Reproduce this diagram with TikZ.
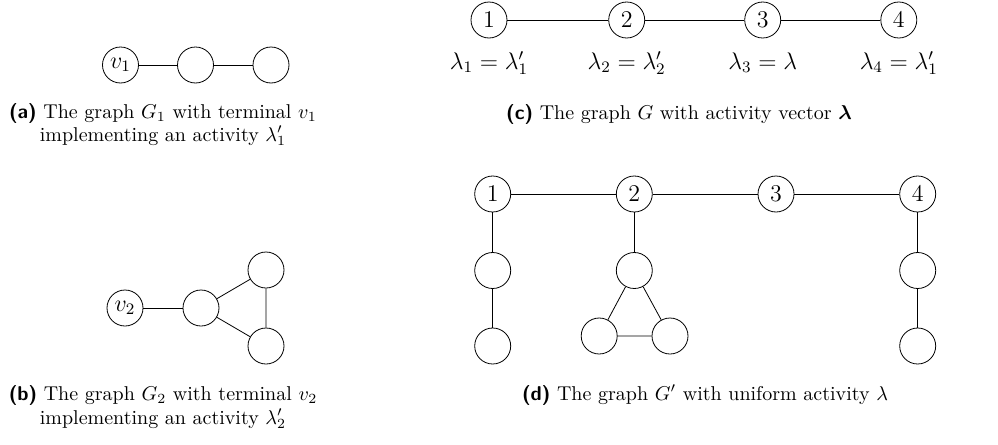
\documentclass[tikz,border=0pt]{standalone}
\usepackage{amsmath,amssymb}
\begin{document}
\begin{tikzpicture}[x=0.5pt,y=-0.5pt,
  vtx/.style={circle,draw,line width=0.4pt,minimum size=18pt,inner sep=0.5pt,font=\large},
  txt/.style={anchor=base,inner sep=0pt,font=\normalsize},
  lab/.style={anchor=base,inner sep=0pt,font=\large},
  edge/.style={line width=0.4pt}]
\useasboundingbox (0,0) rectangle (998,445);
% (a)
\node[vtx] (av1) at (120.5,65) {$v_1$};
\node[vtx] (a2) at (195.5,65) {};
\node[vtx] (a3) at (271,65) {};
\draw[edge] (av1) -- (a2) -- (a3);
\node[txt] (capa1) at (163,118) {\textsf{\bfseries (a)} The graph $G_1$ with terminal $v_1$};
\node[txt] (capa2) at (163,141) {implementing an activity $\lambda_1'$};
% (b)
\node[vtx] (bv2) at (125,308) {$v_2$};
\node[vtx] (b1) at (201,308) {};
\node[vtx] (b2) at (266,270) {};
\node[vtx] (b3) at (266,346) {};
\draw[edge] (bv2) -- (b1);
\draw[edge] (b1) -- (b2) -- (b3) -- (b1);
\node[txt] (capb1) at (163,400) {\textsf{\bfseries (b)} The graph $G_2$ with terminal $v_2$};
\node[txt] (capb2) at (163,424) {implementing an activity $\lambda_2'$};
% (c)
\node[vtx] (c1) at (489,20) {$1$};
\node[vtx] (c2) at (626.7,20) {$2$};
\node[vtx] (c3) at (762.7,20) {$3$};
\node[vtx] (c4) at (898.8,20) {$4$};
\draw[edge] (c1) -- (c2) -- (c3) -- (c4);
\node[lab] (l1) at (489,69) {$\lambda_1=\lambda_1'$};
\node[lab] (l2) at (626.7,69) {$\lambda_2=\lambda_2'$};
\node[lab] (l3) at (762.7,69) {$\lambda_3=\lambda$};
\node[lab] (l4) at (898.8,69) {$\lambda_4=\lambda_1'$};
\node[txt] (capc) at (679,119) {\textsf{\bfseries (c)} The graph $G$ with activity vector $\boldsymbol{\lambda}$};
% (d)
\node[vtx] (d1) at (492.7,194) {$1$};
\node[vtx] (d2) at (634.3,194) {$2$};
\node[vtx] (d3) at (776,194) {$3$};
\node[vtx] (d4) at (917.7,194) {$4$};
\draw[edge] (d1) -- (d2) -- (d3) -- (d4);
\node[vtx] (d1a) at (492.7,270.5) {};
\node[vtx] (d1b) at (492.7,346) {};
\draw[edge] (d1) -- (d1a) -- (d1b);
\node[vtx] (d2a) at (634.3,270.5) {};
\node[vtx] (d2b) at (599.2,336) {};
\node[vtx] (d2c) at (670,336) {};
\draw[edge] (d2) -- (d2a);
\draw[edge] (d2a) -- (d2b) -- (d2c) -- (d2a);
\node[vtx] (d4a) at (917.7,270.5) {};
\node[vtx] (d4b) at (917.7,346) {};
\draw[edge] (d4) -- (d4a) -- (d4b);
\node[txt] (capd) at (705,400) {\textsf{\bfseries (d)} The graph $G'$ with uniform activity $\lambda$};
\end{tikzpicture}
\end{document}
